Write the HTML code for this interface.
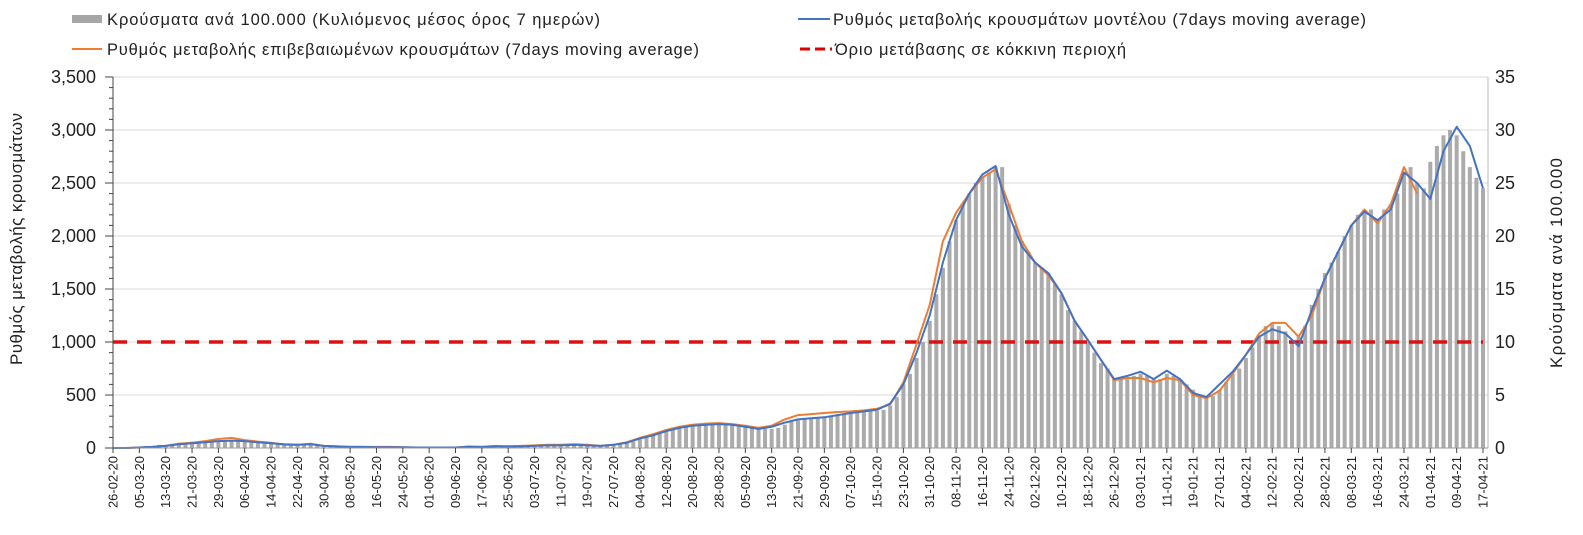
<!DOCTYPE html>
<html><head><meta charset="utf-8"><style>
body{margin:0;background:#fff;}
svg{display:block;font-family:"Liberation Sans","DejaVu Sans",sans-serif;}
</style></head><body>
<svg id="chart" width="1583" height="535">
<g id="legend" font-size="16.5" fill="#222">
 <g><rect x="72" y="15" width="30" height="8" fill="#a6a6a6"/><text x="107" y="25" textLength="493" lengthAdjust="spacing">Κρούσματα ανά 100.000 (Κυλιόμενος μέσος όρος 7 ημερών)</text></g>
 <g><line x1="798" y1="19" x2="830" y2="19" stroke="#4472c4" stroke-width="2"/><text x="833" y="25" textLength="533" lengthAdjust="spacing">Ρυθμός μεταβολής κρουσμάτων μοντέλου (7days moving average)</text></g>
 <g><line x1="72" y1="49" x2="102" y2="49" stroke="#ed7d31" stroke-width="2"/><text x="107" y="55" textLength="592" lengthAdjust="spacing">Ρυθμός μεταβολής επιβεβαιωμένων κρουσμάτων (7days moving average)</text></g>
 <g><line x1="800" y1="49" x2="832" y2="49" stroke="#d00" stroke-width="3" stroke-dasharray="10,5"/><text x="835" y="55" textLength="291" lengthAdjust="spacing">Όριο μετάβασης σε κόκκινη περιοχή</text></g>
</g>
<text font-size="17" fill="#222" text-anchor="middle" textLength="252" lengthAdjust="spacing" transform="translate(22,239) rotate(-90)">Ρυθμός μεταβολής κρουσμάτων</text>
<text font-size="17" fill="#222" text-anchor="middle" textLength="210" lengthAdjust="spacing" transform="translate(1562,263) rotate(-90)">Κρούσματα ανά 100.000</text>
<g id="grid"></g><g id="bars"></g><g id="lines"></g><g id="axes"></g>
</svg>
<script>
const startDate = [2020, 1, 26];
const numDays = 416;
const lineDays = [0,4,8,12,16,20,24,28,32,36,40,44,48,52,56,60,64,68,72,76,80,84,88,92,96,100,104,108,112,116,120,124,128,132,136,140,144,148,152,156,160,164,168,172,176,180,184,188,192,196,200,204,208,212,216,220,224,228,232,236,240,244,248,252,256,260,264,268,272,276,280,284,288,292,296,300,304,308,312,316,320,324,328,332,336,340,344,348,352,356,360,364,368,372,376,380,384,388,392,396,400,404,408,412,416];
const modelRate = [0,0,5,10,20,35,45,55,65,70,65,55,45,35,30,35,20,15,10,10,8,8,8,5,5,5,5,10,10,15,15,15,20,25,25,30,25,20,30,50,90,120,160,190,210,220,225,220,200,180,200,240,270,280,290,310,330,345,360,420,600,900,1250,1750,2150,2400,2580,2660,2200,1900,1750,1650,1460,1200,1020,830,650,680,720,650,730,650,520,480,600,720,880,1050,1120,1080,960,1300,1600,1850,2100,2230,2150,2250,2600,2500,2350,2800,3030,2850,2450];
const confirmedRate = [0,0,5,10,20,40,50,65,85,95,75,60,50,30,30,40,20,15,10,10,10,10,8,5,5,5,5,15,10,20,15,20,25,30,30,35,30,20,30,55,95,130,170,200,220,230,235,225,210,190,210,270,310,320,330,340,345,355,370,410,620,980,1350,1950,2220,2400,2550,2630,2300,1950,1750,1630,1460,1200,1020,830,640,660,660,620,660,640,500,470,540,700,880,1080,1180,1180,1050,1250,1600,1850,2100,2250,2120,2300,2650,2400,null,null,null,null,null];
const barStep = 2;
const casesPer100k = [0,0,0,0.1,0.1,0.2,0.2,0.3, 0.3,0.4,0.5,0.5,0.6,0.6,0.7,0.7, 0.7,0.7,0.7,0.6,0.6,0.6,0.5,0.5, 0.4,0.4,0.3,0.3,0.3,0.3,0.3,0.2, 0.2,0.2,0.1,0.1,0.1,0.1,0.1,0.1, 0.1,0.1,0.1,0.1,0.1,0.1,0.1,0.1, 0.1,0.1,0.1,0.1,0.1,0.1,0.1,0.1, 0.1,0.2,0.2,0.2,0.2,0.2,0.2,0.2, 0.2,0.3,0.3,0.3,0.3,0.3,0.3,0.3, 0.3,0.2,0.2,0.3,0.3,0.4,0.5,0.6, 0.8,1.0,1.2,1.4,1.6,1.8,1.9,2.0, 2.1,2.1,2.2,2.2,2.2,2.2,2.2,2.1, 2.0,1.9,1.8,1.8,1.8,1.9,2.2,2.5, 2.6,2.7,2.8,2.8,2.9,3.0,3.1,3.2, 3.3,3.3,3.4,3.5,3.5,3.6,4.0,4.8, 6.0,7.0,8.5,10.0,12.0,14.5,17.0,19.5, 21.5,23.0,24.0,25.0,25.5,26.0,26.5,26.5, 23.0,21.0,19.5,18.5,17.5,17.0,16.5,15.5, 14.5,13.0,12.0,11.0,10.0,9.0,8.0,7.5, 6.5,6.5,6.5,6.8,7.0,6.8,6.5,6.5, 7.0,6.8,6.5,6.0,5.5,5.0,4.8,4.9, 5.5,6.2,7.0,7.5,8.5,9.5,10.5,11.5, 11.8,11.5,11.0,10.0,10.5,11.5,13.5,15.0, 16.5,17.5,18.5,20.0,21.0,22.0,22.5,22.5, 21.5,22.5,23.0,24.0,26.0,26.5,25.0,24.5, 27.0,28.5,29.5,30.0,29.5,28.0,26.5,25.5, 24.5];
const threshold = 1000;
const leftTicks = [0,500,1000,1500,2000,2500,3000,3500];
const rightTicks = [0,5,10,15,20,25,30,35];

const X0=113, X1=1483, Y0=448, Y1=77;
const xs = d => X0 + d*(X1-X0)/numDays;
const yL = v => Y0 - v*(Y0-Y1)/3500;
const yR = v => Y0 - v*(Y0-Y1)/35;
const NS="http://www.w3.org/2000/svg";
function mk(tag, attrs, parent){const e=document.createElementNS(NS,tag);for(const k in attrs)e.setAttribute(k,attrs[k]);parent.appendChild(e);return e;}
const grid=document.getElementById('grid'), bars=document.getElementById('bars'), lines=document.getElementById('lines'), axes=document.getElementById('axes');

leftTicks.forEach((t,i)=>{
  if(t>0){const g=mk('line',{x1:X0,x2:X1+5,y1:yL(t),y2:yL(t),stroke:'#d9d9d9','stroke-width':1},grid);
  
  }
  const lt=mk('text',{x:96,y:yL(t)+6,'text-anchor':'end','font-size':18,fill:'#222'},axes);
  lt.textContent=t.toLocaleString('en-US');
  
  
});
rightTicks.forEach(t=>{
  const rt=mk('text',{x:1495,y:yR(t)+6,'font-size':18,fill:'#222'},axes);
  rt.textContent=String(t);
  
  
});
for(let v=0;v<=3500;v+=100){mk('line',{x1:X0-(v%500?4:8),x2:X0,y1:yL(v),y2:yL(v),stroke:'#444','stroke-width':1},axes);}
mk('line',{x1:X0,x2:X0,y1:Y1,y2:Y0,stroke:'#444'},axes);
mk('line',{x1:X1+5,x2:X1+5,y1:Y1,y2:Y0,stroke:'#bbb'},axes);
mk('line',{x1:X0,x2:X1+5,y1:Y0,y2:Y0,stroke:'#999'},axes);

casesPer100k.forEach((v,i)=>{
  const d=i*barStep;
  const r=mk('rect',{x:xs(d)-2,y:yR(v),width:4,height:Y0-yR(v),fill:'#ababab'},bars);
  
  
});

const th=mk('line',{x1:X0,x2:X1,y1:yL(threshold),y2:yL(threshold),stroke:'#d11',"stroke-width":3.5,"stroke-dasharray":"14,10"},lines);



function path(arr,color,name){
  let d='';let started=false;
  arr.forEach((v,i)=>{if(v===null)return;d+=(started?'L':'M')+xs(lineDays[i]).toFixed(1)+','+yL(v).toFixed(1);started=true;});
  const p=mk('path',{d:d,fill:'none',stroke:color,'stroke-width':2,'stroke-linejoin':'round'},lines);
  
  
}
path(confirmedRate,'#ed7d31','confirmed-rate-line');
path(modelRate,'#4472c4','model-rate-line');

for(let d=0;d<=numDays;d+=8){
  mk('line',{x1:xs(d),x2:xs(d),y1:Y0,y2:Y0+5,stroke:'#444'},axes);
  const dt=new Date(startDate[0],startDate[1],startDate[2]+d);
  const s=String(dt.getDate()).padStart(2,'0')+'-'+String(dt.getMonth()+1).padStart(2,'0')+'-'+String(dt.getFullYear()).slice(2);
  const t=mk('text',{'font-size':13,fill:'#222','text-anchor':'end',transform:`translate(${xs(d)+4.5},${Y0+8}) rotate(-90)`},axes);
  t.textContent=s;
  
  
}
</script>
</body></html>
